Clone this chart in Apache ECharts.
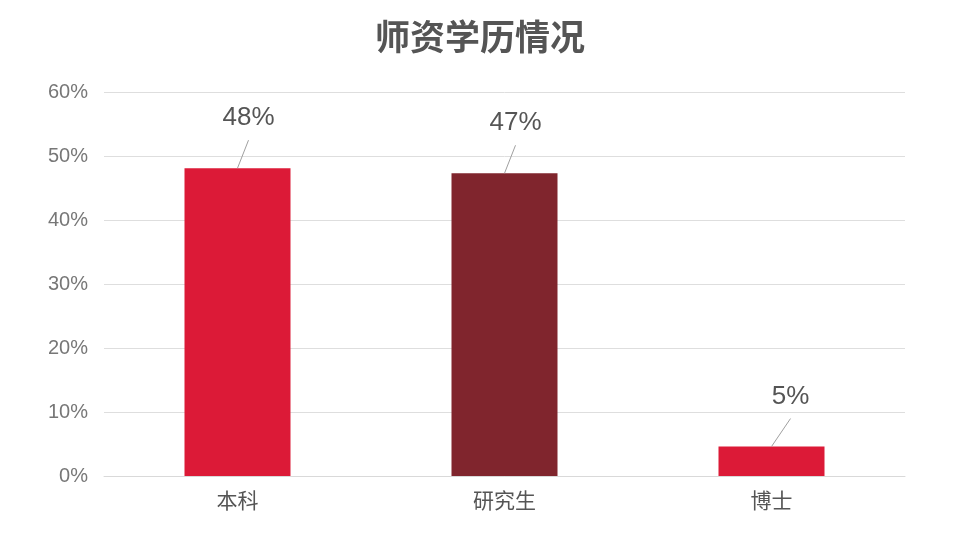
<!DOCTYPE html>
<html>
<head>
<meta charset="utf-8">
<script src="https://cdn.jsdelivr.net/npm/echarts@6/dist/echarts.min.js"></script>
<style>
html, body { margin: 0; padding: 0; background: #fff; }
#chart { width: 960px; height: 535px; }
</style>
</head>
<body>
<div id="chart"></div>
<script>
var categories = ['本科', '研究生', '博士'];
var values = [48.1, 47.3, 4.6];
var labels = ['48%', '47%', '5%'];
var barColors = ['#DC1A37', '#80252D', '#DC1A37'];
var yTicks = [0, 10, 20, 30, 40, 50, 60];

var myChart = echarts.init(document.getElementById('chart'));

// 每个柱子的数据
var barData = values.map(function (v, i) {
    return { value: v, itemStyle: { color: barColors[i] } };
});

// 标签引导线: 从柱顶中点斜向右上
var calloutData = values.map(function (v, i) {
    return [i, v];
});

function renderCallout(params, api) {
    var p = api.coord([api.value(0), api.value(1)]);
    var dx = params.dataIndex === 2 ? 19 : 11;
    return {
        type: 'group',
        children: [
            {
                type: 'line',
                shape: { x1: p[0], y1: p[1], x2: p[0] + dx, y2: p[1] - 28 },
                style: { stroke: '#a0a0a0', lineWidth: 1 }
            },
            {
                type: 'text',
                x: p[0] + dx,
                y: p[1] - 50,
                style: {
                    text: labels[params.dataIndex],
                    fontFamily: 'Liberation Sans',
                    fontSize: 26,
                    fill: '#555',
                    align: 'center',
                    verticalAlign: 'middle'
                }
            }
        ]
    };
}

var option = {
    backgroundColor: '#fff',
    title: {
        text: '师资学历情况',
        left: 'center',
        top: 14,
        textStyle: {
            fontFamily: 'Noto Sans CJK SC',
            fontSize: 35,
            fontWeight: 'bold',
            color: '#555'
        }
    },
    grid: {
        left: 104,
        right: 55,
        top: 92,
        bottom: 59
    },
    xAxis: {
        type: 'category',
        data: categories,
        axisLine: { lineStyle: { color: '#d9d9d9' } },
        axisTick: { show: false },
        axisLabel: {
            fontFamily: 'Noto Sans CJK SC',
            fontSize: 21,
            color: '#555',
            margin: 14
        }
    },
    yAxis: {
        type: 'value',
        min: yTicks[0],
        max: yTicks[yTicks.length - 1],
        interval: 10,
        axisLine: { show: false },
        axisTick: { show: false },
        splitLine: { lineStyle: { color: '#dedede' } },
        axisLabel: {
            formatter: '{value}%',
            fontFamily: 'Liberation Sans',
            fontSize: 20,
            color: '#777',
            margin: 16
        }
    },
    series: [
        {
            type: 'bar',
            data: barData,
            barWidth: 106
        },
        {
            type: 'custom',
            data: calloutData,
            renderItem: renderCallout,
            z: 5,
            silent: true
        }
    ]
};
myChart.setOption(option);
</script>
</body>
</html>
